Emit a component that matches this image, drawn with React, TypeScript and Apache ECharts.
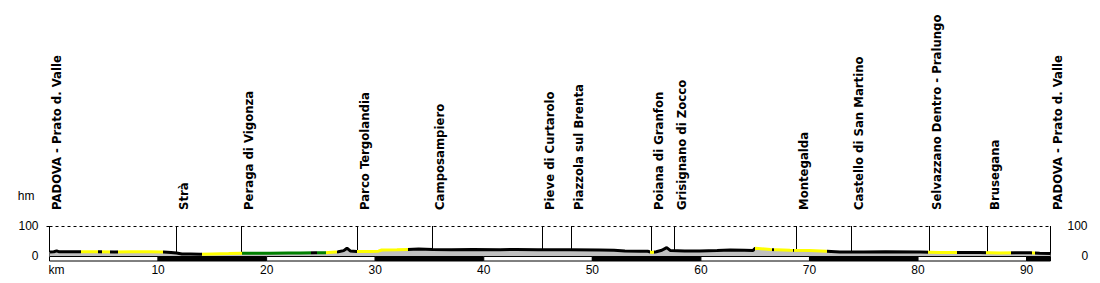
import React, { useEffect, useRef } from "react";
import * as echarts from "echarts";

const profileKm = [0, 0.4, 0.66, 0.9, 2, 3, 4.6, 6, 7.5, 9.3, 10.5, 11.2, 11.7, 12.2, 13, 13.9, 15, 16.5, 17.7, 19, 20.3, 22, 23.1, 24.5, 25.4, 26.6, 27.1, 27.4, 27.7, 28.3, 29.5, 30.3, 30.6, 32, 33, 34, 35.3, 37, 39, 41.5, 43, 45, 46.1, 48, 50.7, 52, 53, 54.4, 55.1, 55.45, 55.9, 56.4, 56.85, 57.2, 58.5, 59.9, 61.5, 62.7, 64, 64.8, 65.0, 66.4, 68.2, 70, 71.6, 72.8, 75, 77, 80.2, 82, 84, 85.7, 87.5, 89, 90.3, 91.2, 92.2];
const profileElev = [13, 14, 17, 14, 14, 14, 14, 13, 14, 14, 13, 12, 10, 7, 7, 6, 7, 8, 9, 9, 9, 10, 10, 11, 11, 14, 18, 26, 17, 15, 15, 16, 20, 21, 22, 23, 22, 21, 22, 21, 22, 21, 21, 21, 20, 19, 17, 16, 16, 12, 14, 19, 28, 18, 17, 17, 18, 20, 19, 18, 26, 22, 19, 18, 16, 13, 13, 14, 13, 12, 12, 12, 10, 11, 11, 9, 8];

const placeNames = ["PADOVA - Prato d. Valle", "Strà", "Peraga di Vigonza", "Parco Tergolandia", "Camposampiero", "Pieve di Curtarolo", "Piazzola sul Brenta", "Poiana di Granfon", "Grisignano di Zocco", "Montegalda", "Castello di San Martino", "Selvazzano Dentro - Pralungo", "Brusegana", "PADOVA - Prato d. Valle"];
const placeKm = [0, 11.68, 17.64, 28.39, 35.3, 45.39, 48.06, 55.47, 57.58, 68.82, 73.89, 81.03, 86.38, 92.2];

const segStart = [0, 2.92, 4.5, 4.8, 5.57, 6.34, 10.48, 14.0, 17.7, 24.1, 24.6, 25.5, 26.45, 28.3, 33.0, 55.3, 55.65, 65.0, 66.55, 66.7, 68.45, 68.6, 71.6, 80.9, 83.6, 86.3, 88.6, 90.5, 90.75];
const segEnd = [2.92, 4.5, 4.8, 5.57, 6.34, 10.48, 14.0, 17.7, 24.1, 24.6, 25.5, 26.45, 28.3, 33.0, 55.3, 55.65, 65.0, 66.55, 66.7, 68.45, 68.6, 71.6, 80.9, 83.6, 86.3, 88.6, 90.5, 90.75, 92.3];
const segColor = ["#000000", "#ffff00", "#000000", "#ffff00", "#000000", "#ffff00", "#000000", "#ffff00", "#008000", "#000000", "#008000", "#ffff00", "#000000", "#ffff00", "#000000", "#ffff00", "#000000", "#ffff00", "#000000", "#ffff00", "#000000", "#ffff00", "#000000", "#ffff00", "#000000", "#ffff00", "#000000", "#ffff00", "#000000"];

const kmTicks = [0, 10, 20, 30, 40, 50, 60, 70, 80, 90];
const hmTicks = [0, 100];
const barStart = [0, 10, 20, 30, 40, 50, 60, 70, 80, 90];
const barEnd = [10, 20, 30, 40, 50, 60, 70, 80, 90, 92.2];
const barFill = ["#ffffff", "#000000", "#ffffff", "#000000", "#ffffff", "#000000", "#ffffff", "#000000", "#ffffff", "#000000"];

const totalKm = 92.2;
const labelFont = "'Liberation Sans', Arial, sans-serif";
const placeFont = "'DejaVu Sans Condensed', 'DejaVu Sans', sans-serif";

export default function App() {
  const ref = useRef<HTMLDivElement>(null);
  useEffect(() => {
    const chart = echarts.init(ref.current as HTMLDivElement, null, { renderer: "svg" });
    const profile = profileKm.map((k, i) => [k, profileElev[i]]);
    const pieces = segStart.map((s, i) => ({ gte: s, lt: segEnd[i], color: segColor[i] }));
    const option: any = {
      animation: false,
      textStyle: { fontFamily: labelFont },
      grid: { left: 49.5, right: 49.5, top: 226, bottom: 27 },
      xAxis: {
        type: "value",
        min: 0,
        max: totalKm,
        axisLine: { show: false },
        axisTick: { show: false },
        splitLine: { show: false },
        axisLabel: {
          customValues: kmTicks,
          color: "#000",
          fontSize: 12,
          margin: 8,
          fontFamily: labelFont,
          formatter: (v: number) => (v === 0 ? "{k|km}" : String(v)),
          rich: { k: { padding: [0, 0, 0, 14], fontSize: 12, color: "#000", fontFamily: labelFont } },
        },
      },
      yAxis: [
        {
          type: "value",
          min: 0,
          max: 100,
          interval: 100,
          position: "left",
          name: "hm",
          nameLocation: "end",
          nameGap: 30,
          nameTextStyle: { color: "#000", fontSize: 12, align: "right", verticalAlign: "middle", padding: [0, 15, 0, 0], fontFamily: labelFont },
          axisLine: { show: false },
          axisTick: { show: true, customValues: [100], length: 3, lineStyle: { color: "#000" } },
          splitLine: { show: false },
          axisLabel: { customValues: hmTicks, color: "#000", fontSize: 12, margin: 11, fontFamily: labelFont },
        },
        {
          type: "value",
          min: 0,
          max: 100,
          interval: 100,
          position: "right",
          axisLine: { show: false },
          axisTick: { show: false },
          splitLine: { show: false },
          axisLabel: {
            customValues: hmTicks,
            color: "#000",
            fontSize: 12,
            margin: 17,
            fontFamily: labelFont,
            formatter: (v: number) => (v === 0 ? "{z|0}" : String(v)),
            rich: { z: { padding: [0, 0, 0, 14], fontSize: 12, color: "#000", fontFamily: labelFont } },
          },
        },
      ],
      visualMap: {
        type: "piecewise",
        show: false,
        dimension: 0,
        seriesIndex: 2,
        pieces,
      },
      series: [
        {
          type: "custom",
          coordinateSystem: "cartesian2d",
          clip: false,
          z: 1,
          data: placeKm.map((k) => [k, 0]),
          encode: { x: 0, y: 1 },
          renderItem: (params: any, api: any) => {
            const km = api.value(0);
            const top = api.coord([km, 100]);
            const bot = api.coord([km, 0]);
            const x = Math.floor(top[0]) + 0.5;
            return {
              type: "group",
              children: [
                { type: "line", shape: { x1: x, y1: top[1], x2: x, y2: bot[1] }, style: { stroke: "#000", lineWidth: 1 } },
                {
                  type: "text",
                  x: x + 0.5,
                  y: top[1] - 16,
                  rotation: Math.PI / 2,
                  style: {
                    text: placeNames[params.dataIndex],
                    fill: "#000",
                    fontSize: 13,
                    fontWeight: "bold",
                    fontFamily: placeFont,
                    align: "left",
                    verticalAlign: "top",
                  },
                },
              ],
            };
          },
        },
        {
          type: "line",
          z: 2,
          data: profile,
          symbol: "none",
          lineStyle: { width: 0 },
          areaStyle: { color: "#c0c0c0", opacity: 1 },
          markLine: {
            silent: true,
            symbol: "none",
            label: { show: false },
            lineStyle: { color: "#000", width: 1, type: [3, 3] },
            data: [{ yAxis: 100 }],
          },
        },
        {
          type: "line",
          z: 3,
          data: profile,
          symbol: "none",
          lineStyle: { width: 3 },
        },
        {
          type: "custom",
          coordinateSystem: "cartesian2d",
          clip: false,
          z: 4,
          data: barStart.map((s, i) => [s, barEnd[i], 0]),
          encode: { x: [0, 1], y: 2 },
          renderItem: (params: any, api: any) => {
            const p1 = api.coord([api.value(0), 0]);
            const p2 = api.coord([api.value(1), 0]);
            return {
              type: "rect",
              shape: { x: p1[0], y: p1[1] + 0.5, width: p2[0] - p1[0], height: 4.5 },
              style: { fill: barFill[params.dataIndex], stroke: "#000", lineWidth: 1 },
            };
          },
        },
      ],
    };
    chart.setOption(option);
    return () => chart.dispose();
  }, []);
  return <div ref={ref} style={{ position: "absolute", left: 0, top: 0, width: 1100, height: 283 }} />;
}
